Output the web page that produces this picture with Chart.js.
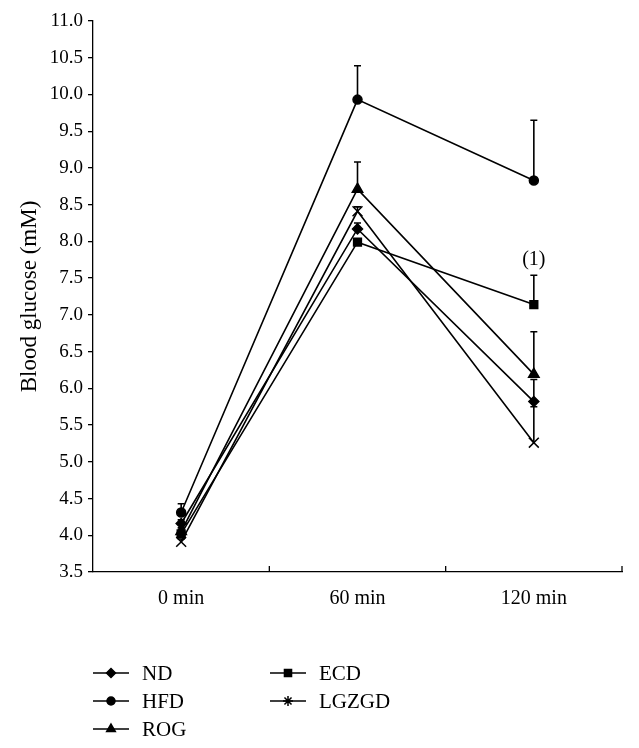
<!DOCTYPE html>
<html>
<head>
<meta charset="utf-8">
<script src="https://cdn.jsdelivr.net/npm/chart.js@4.4.0/dist/chart.umd.min.js"></script>
<style>
    html, body {margin: 0; padding: 0; background: #fff;}
    #wrap {width: 639px; height: 748px;}
</style>
</head>
<body>
<div id="wrap"><canvas id="glucose"></canvas></div>
<script>
// Значения
const timeLabels = ['0 min', '60 min', '120 min']
const yTicks = [3.5, 11.0, 0.5]   // min, max, step

const ndValues = [4.16, 8.17, 5.82]
const hfdValues = [4.31, 9.93, 8.83]
const rogValues = [4.05, 8.71, 6.19]
const ecdValues = [4.02, 7.99, 7.14]
const lgzgdValues = [3.91, 8.41, 5.26]

// Планки погрешностей (только вверх)
const ndErr = [0.05, 0.08, 0.30]
const hfdErr = [0.12, 0.46, 0.82]
const rogErr = [0.05, 0.37, 0.58]
const ecdErr = [0.04, 0.04, 0.40]
const lgzgdErr = [0.04, 0.06, 0.49]

const noteText = '(1)'
const noteIndex = 2
const noteValue = 7.75

const serif = "'Liberation Serif', serif"

const series = [
    {label: 'ND', data: ndValues, err: ndErr, pointStyle: 'rectRot', pointRadius: 5, legendStyle: 'rectRot', legendRadius: 4.5},
    {label: 'HFD', data: hfdValues, err: hfdErr, pointStyle: 'circle', pointRadius: 4.5, legendStyle: 'circle', legendRadius: 4},
    {label: 'ROG', data: rogValues, err: rogErr, pointStyle: 'triangle', pointRadius: 6, legendStyle: 'triangle', legendRadius: 5},
    {label: 'ECD', data: ecdValues, err: ecdErr, pointStyle: 'rect', pointRadius: 5.5, legendStyle: 'rect', legendRadius: 5},
    {label: 'LGZGD', data: lgzgdValues, err: lgzgdErr, pointStyle: 'crossRot', pointRadius: 7, legendStyle: 'star', legendRadius: 5},
]

const datasets = series.map(s => ({
    label: s.label,
    data: s.data,
    err: s.err,
    legendStyle: s.legendStyle,
    legendRadius: s.legendRadius,
    borderColor: '#000',
    backgroundColor: '#000',
    borderWidth: 1.6,
    pointStyle: s.pointStyle,
    pointRadius: s.pointRadius,
    pointBorderWidth: 1.5,
    pointBackgroundColor: '#000',
    pointBorderColor: '#000',
    tension: 0,
    fill: false,
}))

// Планки погрешностей
const errorBars = {
    id: 'errorBars',
    beforeDatasetsDraw(chart) {
        const {ctx, scales: {x, y}} = chart
        ctx.save()
        ctx.strokeStyle = '#000'
        ctx.lineWidth = 1.6
        chart.data.datasets.forEach(ds => {
            ds.data.forEach((v, i) => {
                const e = ds.err[i]
                if (!e) return
                const px = x.getPixelForValue(i)
                const y0 = y.getPixelForValue(v)
                const y1 = y.getPixelForValue(v + e)
                ctx.beginPath()
                ctx.moveTo(px, y0)
                ctx.lineTo(px, y1)
                ctx.moveTo(px - 3.5, y1)
                ctx.lineTo(px + 3.5, y1)
                ctx.stroke()
            })
        })
        ctx.restore()
    }
}

// Засечки по оси X внутрь, подпись (1) и легенда в две колонки
const extras = {
    id: 'extras',
    afterDraw(chart) {
        const {ctx, chartArea, scales: {x, y}} = chart
        ctx.save()
        ctx.strokeStyle = '#000'
        ctx.lineWidth = 1.3
        const half = (x.getPixelForValue(1) - x.getPixelForValue(0)) / 2
        timeLabels.forEach((l, i) => {
            const px = x.getPixelForValue(i) + half
            ctx.beginPath()
            ctx.moveTo(px, chartArea.bottom)
            ctx.lineTo(px, chartArea.bottom - 6)
            ctx.stroke()
        })

        ctx.fillStyle = '#000'
        ctx.font = `20px ${serif}`
        ctx.textAlign = 'center'
        ctx.textBaseline = 'middle'
        ctx.fillText(noteText, x.getPixelForValue(noteIndex), y.getPixelForValue(noteValue))

        const cols = [chartArea.left, chartArea.left + 177]
        const rows = [673, 701, 729]
        chart.data.datasets.forEach((ds, i) => {
            const col = i < 3 ? 0 : 1
            const row = i < 3 ? i : i - 3
            const lx = cols[col]
            const ly = rows[row]
            ctx.lineWidth = 1.5
            ctx.beginPath()
            ctx.moveTo(lx, ly)
            ctx.lineTo(lx + 36, ly)
            ctx.stroke()
            Chart.helpers.drawPoint(ctx, {
                pointStyle: ds.legendStyle,
                radius: ds.legendRadius,
                borderWidth: 1.5,
                rotation: 0
            }, lx + 18, ly)
            ctx.textAlign = 'left'
            ctx.font = `21px ${serif}`
            ctx.fillText(ds.label, lx + 49, ly + 1)
        })
        ctx.restore()
    }
}

const config = {
    type: 'line',
    data: {labels: timeLabels, datasets},
    options: {
        responsive: true,
        maintainAspectRatio: false,
        animation: false,
        layout: {padding: {top: 21, right: 17, bottom: 0, left: 0}},
        plugins: {
            legend: {display: false},
            tooltip: {enabled: false},
        },
        scales: {
            x: {
                offset: true,
                grid: {display: false},
                border: {display: true, color: '#000', width: 1.3},
                ticks: {color: '#000', font: {family: serif, size: 20}, padding: 7},
                afterFit: s => { s.height = 176 },
            },
            y: {
                min: yTicks[0],
                max: yTicks[1],
                grid: {drawOnChartArea: false, drawTicks: true, tickLength: 5, color: '#000', lineWidth: 1.3},
                border: {display: true, color: '#000', width: 1.3},
                ticks: {
                    stepSize: yTicks[2],
                    color: '#000',
                    padding: 5,
                    font: {family: serif, size: 19},
                    callback: v => v.toFixed(1),
                },
                title: {
                    display: true,
                    text: 'Blood glucose (mM)',
                    color: '#000',
                    font: {family: serif, size: 23},
                    padding: {top: 16, bottom: 0},
                },
                afterFit: s => { s.width = 93 },
            }
        }
    },
    plugins: [errorBars, extras]
}

const ctx = document.getElementById('glucose').getContext('2d')
const myChart = new Chart(ctx, config)
</script>
</body>
</html>
